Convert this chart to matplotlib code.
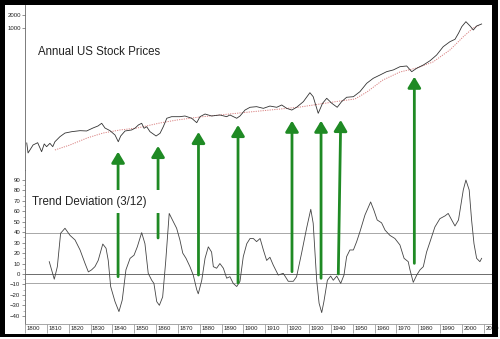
import matplotlib
matplotlib.use("Agg")
import matplotlib.pyplot as plt
import matplotlib.transforms as mtransforms
from matplotlib.patches import ConnectionPatch, Rectangle

plt.rcParams['font.family'] = ['Liberation Sans', 'DejaVu Sans']

# Annual US stock price index (log scale)
price_years = [1800.8, 1801.4, 1803.7, 1805.8, 1807.6, 1808.8, 1809.9, 1811.4, 1812.7, 1813.7,
               1816.0, 1818.3, 1821.4, 1825.2, 1828.2, 1831.1, 1833.4, 1835.1, 1836.6, 1838.9,
               1841.2, 1842.7, 1843.8, 1845.8, 1848.8, 1850.3, 1851.9, 1853.4, 1854.5, 1855.7,
               1857.2, 1860.0, 1861.8, 1863.3, 1864.9, 1867.1, 1870.9, 1873.2, 1876.3, 1878.6,
               1880.1, 1882.4, 1885.4, 1889.2, 1892.3, 1893.8, 1896.9, 1898.4, 1900.7, 1903.0,
               1906.0, 1909.1, 1912.1, 1915.2, 1917.5, 1919.8, 1922.1, 1924.3, 1927.4, 1930.4,
               1931.9, 1934.2, 1936.2, 1938.1, 1940.4, 1942.9, 1944.9, 1947.2, 1950.3, 1953.3,
               1956.4, 1959.4, 1962.5, 1965.5, 1968.6, 1971.6, 1974.7, 1977.0, 1979.3, 1982.3,
               1985.4, 1988.4, 1991.4, 1994.5, 1996.8, 1998.4, 1999.9, 2001.8, 2003.7, 2005.2,
               2006.7, 2009.0]
price_values = [2.18, 1.28, 1.96, 2.21, 1.37, 2.07, 1.79, 2.14, 1.79, 2.33,
                3.05, 3.70, 3.98, 4.20, 4.13, 4.84, 5.39, 6.22, 4.84, 4.20,
                3.33, 2.33, 3.16, 4.13, 4.36, 4.77, 5.69, 6.22, 4.77, 5.19,
                3.98, 3.16, 3.65, 5.19, 8.13, 8.85, 8.85, 9.18, 8.13, 6.43,
                8.85, 10.2, 9.18, 9.69, 8.85, 9.69, 8.13, 9.18, 12.6, 14.6,
                15.1, 13.8, 15.6, 14.6, 16.5, 13.8, 12.6, 14.6, 19.7, 31.8,
                25.7, 10.6, 18.1, 23.6, 18.1, 14.6, 19.7, 24.9, 25.7, 33.6,
                52.5, 68.5, 81.7, 97.4, 107, 127, 132, 97.4, 117, 139,
                175, 237, 369, 482, 547, 754, 1071, 1400, 1112, 899,
                1112, 1238]

# Long-term moving average of the price index
ma_years = [1813.7, 1820.6, 1828.4, 1835.7, 1843.5, 1851.3, 1861.8, 1869.6, 1880.1, 1889.2,
            1898.4, 1907.6, 1916.7, 1925.9, 1935.0, 1944.2, 1951.0, 1956.5, 1963.8, 1971.6,
            1979.4, 1986.7, 1994.5, 2000.5, 2005.1, 2008.2]
ma_values = [1.50, 1.96, 2.84, 3.70, 4.36, 4.84, 6.33, 7.42, 8.71, 9.69,
             10.8, 12.0, 13.3, 14.8, 17.4, 20.4, 22.7, 33.0, 62.5, 95.7,
             119, 163, 310, 619, 1000, 1172]

# Trend deviation oscillator (3/12)
dev_years = [1811.1, 1813.4, 1814.8, 1816.3, 1818.3, 1820.6, 1822.9, 1825.2, 1827.5, 1829.0,
             1830.5, 1832.0, 1833.5, 1835.6, 1837.1, 1838.1, 1839.2, 1841.2, 1843.0, 1844.5,
             1846.2, 1848.1, 1849.9, 1851.4, 1853.4, 1854.9, 1856.4, 1858.0, 1859.0, 1860.3,
             1861.5, 1863.0, 1864.4, 1866.0, 1867.9, 1869.4, 1870.9, 1872.2, 1873.7, 1875.5,
             1877.0, 1878.6, 1879.3, 1880.9, 1882.4, 1883.9, 1885.4, 1886.2, 1887.7, 1889.2,
             1890.8, 1892.3, 1893.8, 1895.3, 1896.9, 1898.4, 1899.9, 1901.5, 1903.0, 1904.5,
             1906.0, 1907.6, 1909.1, 1910.6, 1912.1, 1913.6, 1915.9, 1918.2, 1920.5, 1922.8,
             1924.3, 1926.6, 1928.9, 1930.8, 1931.9, 1933.5, 1934.6, 1935.8, 1936.8, 1938.4,
             1939.9, 1941.1, 1942.7, 1944.5, 1946.0, 1947.2, 1948.7, 1950.3, 1951.8, 1953.3,
             1955.6, 1958.2, 1959.7, 1961.2, 1963.2, 1964.8, 1967.0, 1969.3, 1971.6, 1973.5,
             1975.4, 1976.2, 1977.7, 1979.3, 1980.8, 1982.3, 1983.8, 1985.4, 1987.6, 1989.9,
             1992.2, 1993.7, 1995.3, 1996.8, 1998.4, 2000.6, 2001.8, 2003.3, 2004.4, 2005.5,
             2006.7, 2008.2, 2009.0]
dev_values = [11.8, -5, 7, 39, 43.8, 37, 32.6, 23, 10, 2,
              4, 7, 13, 28.7, 24.6, 13, -12, -26.5, -36, -25,
              4, 15, 18, 26, 39.6, 29, 0.6, -6, -9, -26.5,
              -30, -22, 12, 58, 50, 43.8, 32.6, 20, 15, 7,
              -1, -15, -19, -6, 15, 26, 21, 7, 5.5, 10,
              5.5, -4, -2.6, -9, -12, -7, 16.6, 29, 34, 34,
              31, 34, 23, 13, 16, 8.6, -1, 0.6, -7, -7,
              -2.6, 20, 44, 62, 48.6, -6, -28, -37, -26.5, -6,
              -2, -6, -2, -9, -1, 16.6, 23, 23, 31, 40.5,
              56.5, 69, 61, 51.7, 49, 42, 37, 34, 27.8, 15,
              11.8, 4, -8, -1, 4, 7, 21, 31, 45, 53,
              55.6, 58, 51.7, 46, 51.7, 80.5, 90, 80.5, 51.7, 29,
              15, 11.8, 15]

# Buy signals: oscillator level at the start, price level at the arrow tip
signal_start_years = [1842.6, 1860.9, 1879.4, 1897.5, 1922.2, 1935.5, 1943.4, 1978.2]
signal_end_years = [1842.6, 1860.9, 1879.4, 1897.5, 1922.2, 1935.5, 1944.5, 1978.2]
signal_dev = [-2.6, 34.5, -1, -8.6, 2.2, -4.1, 0, 10.2]
signal_price = [1.37, 1.86, 3.92, 5.69, 7.15, 7.15, 7.42, 74.6]

ref_levels = [39, 0, -9]
dev_ticks = list(range(-40, 100, 10))
decade_ticks = list(range(1800, 2020, 10))
price_ticks = [1000, 2000]

W, H = 500, 339
fig = plt.figure(figsize=(W / 100, H / 100), dpi=100)


def box(x0, y0, x1, y1):
    return [x0 / W, 1 - y1 / H, (x1 - x0) / W, (y1 - y0) / H]


ax1 = fig.add_axes(box(25, 5, 493, 170))
ax2 = fig.add_axes(box(25, 170, 493, 324))

xlim = (1800, 2014.2)
for ax in (ax1, ax2):
    ax.set_xlim(*xlim)
    ax.set_facecolor('none')
    for s in ('top', 'right'):
        ax.spines[s].set_visible(False)
    ax.spines['left'].set_color('#666666')
    ax.spines['left'].set_linewidth(0.6)

# Price panel
ax1.set_yscale('log')
ax1.set_ylim(0.516, 3406)
ax1.plot(ma_years, ma_values, color='#d98080', lw=0.7, ls=(0, (1.2, 1.2)))
ax1.plot(price_years, price_values, color='#333333', lw=0.6)
ax1.spines['bottom'].set_visible(False)
ax1.set_xticks([])
ax1.set_yticks(price_ticks)
ax1.set_yticklabels([str(t) for t in price_ticks])
ax1.yaxis.set_minor_locator(matplotlib.ticker.NullLocator())
ax1.tick_params(axis='y', labelsize=4.3, length=2, width=0.5, pad=0.5,
                color='#666666', labelcolor='#222222')

# Oscillator panel
ax2.set_ylim(-47.9, 99.6)
for lvl in ref_levels:
    ax2.axhline(lvl, color='#555555' if lvl == 0 else '#9a9a9a', lw=0.6)
ax2.plot(dev_years, dev_values, color='#444444', lw=0.6)
ax2.set_yticks(dev_ticks)
ax2.set_yticks([t + 5 for t in dev_ticks[:-1]], minor=True)
ax2.tick_params(axis='y', which='major', labelsize=4.3, length=2.5, width=0.5, pad=1,
                color='#666666', labelcolor='#222222')
ax2.tick_params(axis='y', which='minor', length=1.5, width=0.4, color='#888888')
ax2.spines['bottom'].set_color('#999999')
ax2.spines['bottom'].set_linewidth(0.6)
ax2.set_xticks(decade_ticks)
ax2.set_xticklabels([str(t) for t in decade_ticks])
ax2.tick_params(axis='x', labelsize=4.3, length=6.5, width=0.5, pad=-4.8,
                color='#888888', labelcolor='#222222')
shift = mtransforms.ScaledTranslation(1.5 / 100, 0, fig.dpi_scale_trans)
for lab in ax2.get_xticklabels():
    lab.set_horizontalalignment('left')
    lab.set_transform(lab.get_transform() + shift)

# Signal arrows from the oscillator up into the price panel
for x0, x1, d, p in zip(signal_start_years, signal_end_years, signal_dev, signal_price):
    con = ConnectionPatch(xyA=(x0, d), coordsA=ax2.transData,
                          xyB=(x1, p), coordsB=ax1.transData,
                          arrowstyle='-|>,head_length=1.0,head_width=0.6',
                          mutation_scale=6.5, shrinkA=0, shrinkB=0,
                          color='#1f8a24', lw=2.0, zorder=3)
    fig.add_artist(con)

# Panel captions
fig.text(38 / W, 1 - 52 / H, 'Annual US Stock Prices', fontsize=8.3,
         color='#222222', va='center', ha='left', zorder=6)
fig.add_artist(Rectangle((30 / W, 1 - 213 / H), 136 / W, 23 / H,
                         transform=fig.transFigure, facecolor='white',
                         edgecolor='none', zorder=5))
fig.text(32 / W, 1 - 202 / H, 'Trend Deviation (3/12)', fontsize=8.3,
         color='#222222', va='center', ha='left', zorder=6)

# Heavy frame
frame = dict(transform=fig.transFigure, facecolor='black', edgecolor='none', zorder=10)
fig.add_artist(Rectangle((0, 1 - 5 / H), 498 / W, 5 / H, **frame))
fig.add_artist(Rectangle((0, 1 - 337 / H), 5 / W, 337 / H, **frame))
fig.add_artist(Rectangle((492 / W, 1 - 337 / H), 6 / W, 337 / H, **frame))
fig.add_artist(Rectangle((0, 1 - 337 / H), 498 / W, 3.5 / H, **frame))

fig.savefig('out.png', dpi=100)
